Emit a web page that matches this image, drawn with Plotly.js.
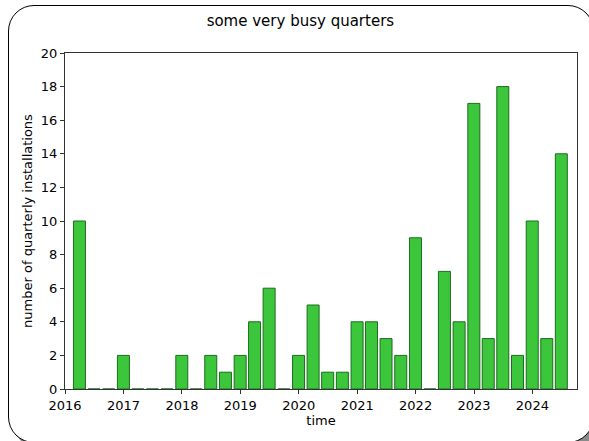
<!DOCTYPE html>
<html>
<head>
<meta charset="utf-8">
<script src="https://cdn.plot.ly/plotly-3.0.1.min.js"></script>
<style>
  html, body { margin: 0; padding: 0; background: #fff; }
  #wrap { position: relative; width: 589px; height: 441px; overflow: hidden; background: #fff; }
  #frame { position: absolute; left: 8px; top: 5px; width: 584px; height: 436px;
           border: 1.3px solid #000; border-radius: 26px; box-shadow: 5px 5px 0 #8a8a8a; background: #fff; }
  #chart { position: absolute; left: 0; top: 0; width: 589px; height: 441px; }
</style>
</head>
<body>
<div id="wrap">
  <div id="frame"></div>
  <div id="chart"></div>
</div>
<script>
const quarters = ['2016-03-31','2016-06-30','2016-09-30','2016-12-31',
  '2017-03-31','2017-06-30','2017-09-30','2017-12-31',
  '2018-03-31','2018-06-30','2018-09-30','2018-12-31',
  '2019-03-31','2019-06-30','2019-09-30','2019-12-31',
  '2020-03-31','2020-06-30','2020-09-30','2020-12-31',
  '2021-03-31','2021-06-30','2021-09-30','2021-12-31',
  '2022-03-31','2022-06-30','2022-09-30','2022-12-31',
  '2023-03-31','2023-06-30','2023-09-30','2023-12-31',
  '2024-03-31','2024-06-30'];
const installations = [10,0,0,2, 0,0,0,2, 0,2,1,2, 4,6,0,2, 5,1,1,4, 4,3,2,9, 0,7,4,17, 3,18,2,10, 3,14];
const yearTicks = ['2016-01-01','2017-01-01','2018-01-01','2019-01-01','2020-01-01','2021-01-01','2022-01-01','2023-01-01','2024-01-01'];
const yearLabels = ['2016','2017','2018','2019','2020','2021','2022','2023','2024'];

const DAY = 86400000;
const trace = {
  type: 'bar',
  x: quarters,
  y: installations,
  width: quarters.map(() => 75 * DAY),
  marker: { color: '#3cc63c', line: { color: '#1e6b1e', width: 1 } },
  hoverinfo: 'x+y'
};

const layout = {
  width: 589, height: 441,
  paper_bgcolor: 'rgba(0,0,0,0)',
  plot_bgcolor: '#fff',
  margin: { l: 65, r: 12, t: 53, b: 52 },
  font: { family: 'DejaVu Sans, sans-serif', size: 13, color: '#000' },
  title: { text: 'some very busy quarters', font: { size: 15, family: 'DejaVu Sans' },
           x: 0.51, xref: 'container', xanchor: 'center', y: 0.952, yref: 'container', yanchor: 'middle' },
  xaxis: {
    type: 'date',
    range: ['2015-12-31 18:00', '2024-10-06'],
    tickvals: yearTicks, ticktext: yearLabels,
    ticks: 'outside', ticklen: 4, tickcolor: '#333', tickwidth: 1,
    showline: true, linecolor: '#333', linewidth: 1, mirror: true,
    showgrid: false, zeroline: false,
    tickfont: { size: 13 },
    title: { text: 'time', font: { size: 13 }, standoff: 4 }
  },
  yaxis: {
    range: [0, 20],
    tickvals: [0,2,4,6,8,10,12,14,16,18,20],
    ticks: 'outside', ticklen: 4, tickcolor: '#333', tickwidth: 1,
    showline: true, linecolor: '#333', linewidth: 1, mirror: true,
    showgrid: false, zeroline: false,
    tickfont: { size: 13 },
    title: { text: 'number of quarterly installations', font: { size: 13 }, standoff: 5 }
  },
  bargap: 0,
  showlegend: false
};

Plotly.newPlot('chart', [trace], layout, { displayModeBar: false, staticPlot: true });
</script>
</body>
</html>
